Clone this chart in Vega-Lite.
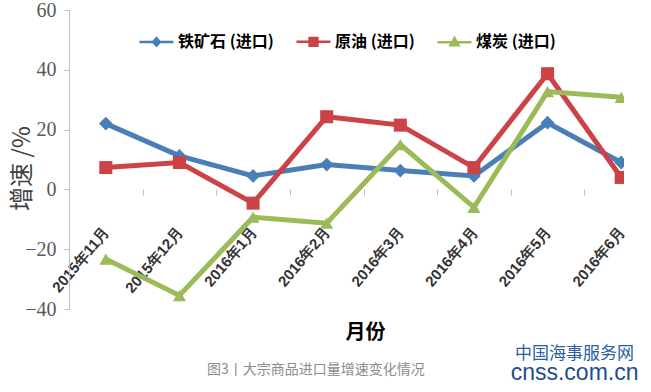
{
  "$schema": "https://vega.github.io/schema/vega-lite/v6.json",
  "autosize": "none",
  "width": 555,
  "height": 299,
  "padding": {"left": 69, "top": 10, "right": 27, "bottom": 83},
  "background": "white",
  "config": {"view": {"stroke": null}, "font": "Noto Sans CJK SC"},
  "title": {
    "text": "图3丨大宗商品进口量增速变化情况",
    "orient": "bottom",
    "anchor": "start",
    "frame": "group",
    "dx": 138,
    "offset": -22,
    "fontSize": 14,
    "fontWeight": "normal",
    "color": "#8c8c8c",
    "font": "Noto Sans CJK SC"
  },
  "datasets": {
    "growth": [
      {"month": "2015年11月", "series": "铁矿石 (进口)", "value": 22},
      {"month": "2015年12月", "series": "铁矿石 (进口)", "value": 11.2},
      {"month": "2016年1月", "series": "铁矿石 (进口)", "value": 4.5},
      {"month": "2016年2月", "series": "铁矿石 (进口)", "value": 8.3},
      {"month": "2016年3月", "series": "铁矿石 (进口)", "value": 6.3},
      {"month": "2016年4月", "series": "铁矿石 (进口)", "value": 4.5},
      {"month": "2016年5月", "series": "铁矿石 (进口)", "value": 22.3},
      {"month": "2016年6月", "series": "铁矿石 (进口)", "value": 9},
      {"month": "2015年11月", "series": "原油 (进口)", "value": 7.3},
      {"month": "2015年12月", "series": "原油 (进口)", "value": 9},
      {"month": "2016年1月", "series": "原油 (进口)", "value": -4.6},
      {"month": "2016年2月", "series": "原油 (进口)", "value": 24.3},
      {"month": "2016年3月", "series": "原油 (进口)", "value": 21.5},
      {"month": "2016年4月", "series": "原油 (进口)", "value": 7.3},
      {"month": "2016年5月", "series": "原油 (进口)", "value": 38.7},
      {"month": "2016年6月", "series": "原油 (进口)", "value": 4},
      {"month": "2015年11月", "series": "煤炭 (进口)", "value": -23.3},
      {"month": "2015年12月", "series": "煤炭 (进口)", "value": -35.5},
      {"month": "2016年1月", "series": "煤炭 (进口)", "value": -9.3},
      {"month": "2016年2月", "series": "煤炭 (进口)", "value": -11.3},
      {"month": "2016年3月", "series": "煤炭 (进口)", "value": 15},
      {"month": "2016年4月", "series": "煤炭 (进口)", "value": -6},
      {"month": "2016年5月", "series": "煤炭 (进口)", "value": 32.7},
      {"month": "2016年6月", "series": "煤炭 (进口)", "value": 30.8}
    ],
    "logo": [
      {"t": "中国海事服务网", "kind": "name"},
      {"t": "cnss.com.cn", "kind": "url"}
    ]
  },
  "encoding": {
    "x": {
      "field": "month",
      "type": "ordinal",
      "sort": null,
      "scale": {"type": "band", "range": [0, 589], "paddingInner": 0, "paddingOuter": 0},
      "axis": {
        "orient": "bottom",
        "offset": -120,
        "domain": false,
        "ticks": true,
        "tickBand": "extent",
        "tickSize": 6,
        "tickColor": "#bfbfbf",
        "labelAngle": -50,
        "labelFont": "Liberation Sans",
        "labelFontSize": 15,
        "labelFontWeight": "bold",
        "labelColor": "#333333",
        "labelPadding": 34,
        "title": "月份",
        "titleFont": "Noto Sans CJK SC",
        "titleFontSize": 20,
        "titleFontWeight": "bold",
        "titleColor": "#000000",
        "titleX": 296,
        "titleY": 143,
        "titleBaseline": "middle",
        "titleAlign": "center"
      }
    },
    "y": {
      "field": "value",
      "type": "quantitative",
      "scale": {"domain": [-40, 60], "nice": false, "zero": false},
      "axis": {
        "values": [-40, -20, 0, 20, 40, 60],
        "grid": false,
        "domainColor": "#bfbfbf",
        "tickColor": "#bfbfbf",
        "tickSize": 5,
        "labelFont": "Liberation Sans Narrow",
        "labelFontSize": 20,
        "labelColor": "#595959",
        "labelPadding": 8,
        "title": "增速 /%",
        "titleFont": "Noto Sans CJK SC",
        "titleFontSize": 24,
        "titleFontWeight": "normal",
        "titleColor": "#404040",
        "titleX": -35,
        "titleY": 158,
        "titleAngle": -90,
        "titleAlign": "center",
        "titleBaseline": "bottom"
      }
    }
  },
  "layer": [
    {
      "data": {"name": "logo"},
      "transform": [{"filter": "datum.kind == 'name'"}],
      "mark": {"type": "rule", "color": "#bfbfbf", "strokeWidth": 1},
      "encoding": {"x": null, "y": {"datum": 0, "type": "quantitative"}}
    },
    {
      "data": {"name": "growth"},
      "mark": {"type": "line", "strokeWidth": 5, "clip": true},
      "encoding": {
        "color": {
          "field": "series",
          "type": "nominal",
          "sort": null,
          "scale": {
            "domain": ["铁矿石 (进口)", "原油 (进口)", "煤炭 (进口)"],
            "range": ["#4a7eb7", "#cc4347", "#9bbb59"]
          },
          "legend": {
            "orient": "none",
            "legendX": 69,
            "legendY": 13,
            "direction": "horizontal",
            "columns": 3,
            "title": null,
            "symbolSize": 1156,
            "symbolStrokeWidth": 2.5,
            "labelOffset": 3,
            "columnPadding": 17,
            "labelFont": "Noto Sans CJK SC",
            "labelFontSize": 16,
            "labelFontWeight": "bold",
            "labelColor": "#000000",
            "encode": {
              "symbols": {
                "update": {
                  "shape": {"signal": "datum.value == '铁矿石 (进口)' ? 'M-1,0H1M0,-0.22L0.2,0L0,0.22L-0.2,0Z' : datum.value == '原油 (进口)' ? 'M-1,0H1M-0.23,-0.23H0.23V0.23H-0.23Z' : 'M-1,0H1M0,-0.24L0.24,0.18H-0.24Z'"},
                  "fill": {"scale": "color", "field": "value"},
                  "stroke": {"scale": "color", "field": "value"},
                  "strokeWidth": {"value": 2.5},
                  "opacity": {"value": 1}
                }
              }
            }
          }
        }
      }
    },
    {
      "data": {"name": "growth"},
      "transform": [{"filter": "datum.series == '铁矿石 (进口)'"}],
      "mark": {"type": "point", "shape": "diamond", "filled": true, "opacity": 1, "size": 190, "clip": true, "color": "#4a7eb7"}
    },
    {
      "data": {"name": "growth"},
      "transform": [{"filter": "datum.series == '原油 (进口)'"}],
      "mark": {"type": "point", "shape": "square", "filled": true, "opacity": 1, "size": 170, "clip": true, "color": "#cc4347"}
    },
    {
      "data": {"name": "growth"},
      "transform": [{"filter": "datum.series == '煤炭 (进口)'"}],
      "mark": {"type": "point", "shape": "triangle-up", "filled": true, "opacity": 1, "size": 170, "clip": true, "color": "#9bbb59"}
    },
    {
      "data": {"name": "logo"},
      "transform": [{"filter": "datum.kind == 'name'"}],
      "mark": {"type": "text", "invalid": null, "font": "Noto Sans CJK SC", "fontSize": 17, "fill": "#2a5fa0", "align": "center", "baseline": "middle", "dx": 27, "dy": 165},
      "encoding": {
        "x": {"datum": "2016年5月", "type": "ordinal"},
        "y": {"datum": 0},
        "text": {"field": "t", "type": "nominal"}
      }
    },
    {
      "data": {"name": "logo"},
      "transform": [{"filter": "datum.kind == 'url'"}],
      "mark": {"type": "text", "invalid": null, "font": "Liberation Sans", "fontSize": 23, "fill": "#1e4e8c", "align": "center", "baseline": "middle", "dx": 27, "dy": 184},
      "encoding": {
        "x": {"datum": "2016年5月", "type": "ordinal"},
        "y": {"datum": 0},
        "text": {"field": "t", "type": "nominal"}
      }
    }
  ]
}
